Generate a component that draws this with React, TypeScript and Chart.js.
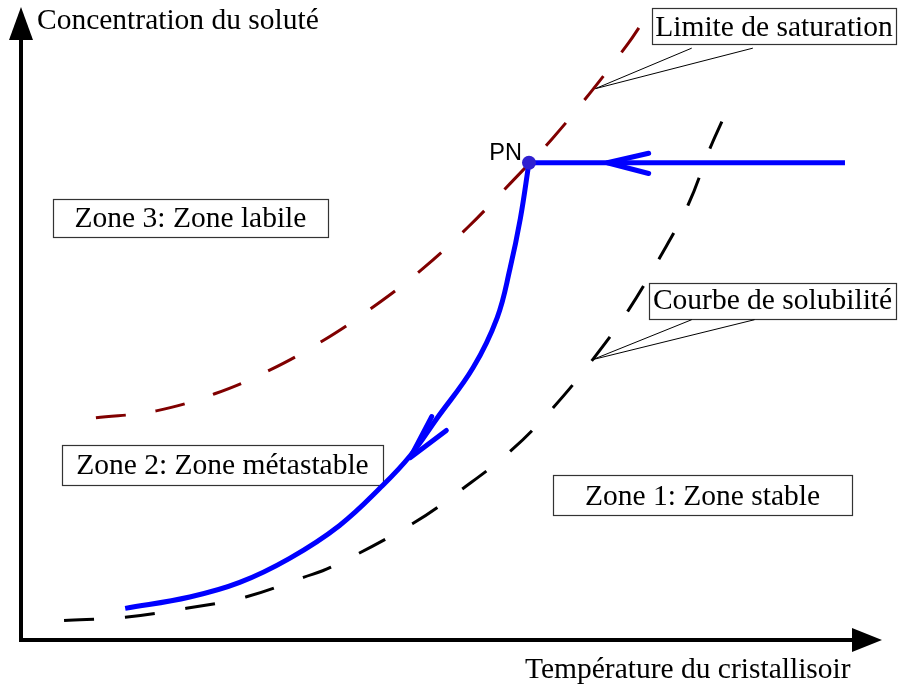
import { useEffect, useRef } from "react";
import { Chart, registerables } from "chart.js";

Chart.register(...registerables);

// ---- Data (temperature T in % of axis, concentration C in % of axis) ----
const saturationT = [8.7, 15.7, 22.5, 29.0, 35.2, 41.1, 46.7, 51.9, 56.8, 61.7, 66.2, 70.5, 72.2];
const saturationC = [35.1, 36.2, 38.9, 42.7, 47.4, 52.8, 58.7, 65.2, 72.1, 79.2, 86.6, 94.2, 97.6];

const solubiliteT = [5.0, 12.1, 19.2, 26.1, 32.8, 36.0, 45.5, 51.3, 56.9, 61.8, 66.4, 70.5, 74.1, 77.5, 80.0, 81.4];
const solubiliteC = [3.1, 3.6, 5.0, 6.8, 9.9, 11.5, 18.4, 23.9, 29.9, 36.7, 44.3, 52.0, 60.2, 68.8, 77.6, 81.9];

const coolingT = [12.1, 19.6, 25.4, 31.2, 37.0, 42.0, 45.2, 48.3, 52.5, 55.3, 56.8, 58.0, 59.0];
const coolingC = [5.0, 6.8, 9.1, 12.9, 18.1, 24.4, 29.1, 35.0, 43.0, 50.9, 58.7, 66.6, 75.4];

const plateauT = [95.7, 59.0];
const plateauC = [75.4, 75.4];

const arrowPlateauT = [72.9, 68.1, 72.9];
const arrowPlateauC = [76.9, 75.4, 73.7];

const arrowCurveT = [47.7, 45.2, 49.4];
const arrowCurveC = [35.3, 28.8, 33.1];

const calloutSatT = [77.9, 66.7, 85.0];
const calloutSatC = [93.5, 87.1, 93.5];

const calloutSolT = [77.9, 66.4, 85.2];
const calloutSolC = [50.6, 44.3, 50.6];

const pnT = [59.0];
const pnC = [75.4];

const axisTitleY = "Concentration du soluté";
const axisTitleX = "Température du cristallisoir";
const pointLabel = "PN";
const boxLabels = [
  "Zone 3: Zone labile",
  "Zone 2: Zone métastable",
  "Zone 1: Zone stable",
  "Limite de saturation",
  "Courbe de solubilité",
];

const pts = (xs: number[], ys: number[]) => xs.map((x, i) => ({ x, y: ys[i] }));

const SERIF = '29.5px "Liberation Serif", "Times New Roman", serif';

const boxLayout = [
  { x1: 53, y1: 199, x2: 328, y2: 237, base: 227 },
  { x1: 62, y1: 445, x2: 383, y2: 485, base: 474 },
  { x1: 553, y1: 475, x2: 852, y2: 515, base: 505 },
  { x1: 652, y1: 8, x2: 896, y2: 44, base: 36 },
  { x1: 649, y1: 283, x2: 896, y2: 319, base: 309 },
];

const boxesPlugin = {
  id: "boxes",
  beforeDatasetsDraw(chart: any) {
    const ctx = chart.ctx;
    ctx.save();
    boxLayout.forEach((b, i) => {
      ctx.fillStyle = "#ffffff";
      ctx.fillRect(b.x1, b.y1, b.x2 - b.x1, b.y2 - b.y1);
      ctx.strokeStyle = "#333333";
      ctx.lineWidth = 1.2;
      ctx.strokeRect(b.x1 + 0.5, b.y1 + 0.5, b.x2 - b.x1, b.y2 - b.y1);
      ctx.fillStyle = "#000000";
      ctx.font = SERIF;
      ctx.textAlign = "center";
      ctx.textBaseline = "alphabetic";
      ctx.fillText(boxLabels[i], (b.x1 + b.x2) / 2, b.base);
    });
    ctx.restore();
  },
};

const axesPlugin = {
  id: "axesArrows",
  afterDatasetsDraw(chart: any) {
    const ctx = chart.ctx;
    const { left, right, top, bottom } = chart.chartArea;
    ctx.save();
    ctx.strokeStyle = "#000";
    ctx.fillStyle = "#000";
    ctx.lineWidth = 4;
    ctx.lineCap = "butt";
    // y axis
    ctx.beginPath();
    ctx.moveTo(left, bottom + 2);
    ctx.lineTo(left, top + 30);
    ctx.stroke();
    ctx.beginPath();
    ctx.moveTo(left, top);
    ctx.lineTo(left - 12, top + 33);
    ctx.lineTo(left + 12, top + 33);
    ctx.closePath();
    ctx.fill();
    // x axis
    ctx.beginPath();
    ctx.moveTo(left - 2, bottom);
    ctx.lineTo(right - 28, bottom);
    ctx.stroke();
    ctx.beginPath();
    ctx.moveTo(right, bottom);
    ctx.lineTo(right - 30, bottom - 12);
    ctx.lineTo(right - 30, bottom + 12);
    ctx.closePath();
    ctx.fill();

    // axis titles
    ctx.font = SERIF;
    ctx.textAlign = "left";
    ctx.textBaseline = "alphabetic";
    ctx.fillText(axisTitleY, left + 16, 29);
    ctx.fillText(axisTitleX, 525, 678);

    // PN label
    const xs = chart.scales.x;
    const ys = chart.scales.y;
    ctx.font = '23.5px "Liberation Sans", Arial, sans-serif';
    ctx.textAlign = "right";
    ctx.fillText(pointLabel, xs.getPixelForValue(pnT[0]) - 7, ys.getPixelForValue(pnC[0]) - 3);
    ctx.restore();
  },
};

export default function App() {
  const ref = useRef<HTMLCanvasElement | null>(null);

  useEffect(() => {
    document.body.style.margin = "0";
    if (!ref.current) return;
    const line = (data: any, color: string, width: number, extra: any = {}) => ({
      type: "line",
      data,
      showLine: true,
      borderColor: color,
      backgroundColor: color,
      borderWidth: width,
      pointRadius: 0,
      fill: false,
      clip: false,
      ...extra,
    });
    const chart = new Chart(ref.current, {
      type: "scatter",
      data: {
        datasets: [
          line(pts(pnT, pnC), "#3020d0", 0, { pointRadius: 7, pointBackgroundColor: "#3020d0", pointBorderWidth: 0, showLine: false, order: 0 }),
          line(pts(arrowPlateauT, arrowPlateauC), "#0000ff", 5, { tension: 0, borderCapStyle: "round", borderJoinStyle: "round", order: 1 }),
          line(pts(arrowCurveT, arrowCurveC), "#0000ff", 5, { tension: 0, borderCapStyle: "round", borderJoinStyle: "round", order: 1 }),
          line(pts(plateauT, plateauC), "#0000ff", 5, { tension: 0, order: 2 }),
          line(pts(coolingT, coolingC), "#0000ff", 5, { tension: 0.4, order: 2 }),
          line(pts(saturationT, saturationC), "#800000", 3, { tension: 0.4, borderDash: [30, 30], order: 3 }),
          line(pts(solubiliteT, solubiliteC), "#000000", 3, { tension: 0.4, borderDash: [30, 31], order: 3 }),
          line(pts(calloutSatT, calloutSatC), "#000000", 1, { tension: 0, order: 4 }),
          line(pts(calloutSolT, calloutSolC), "#000000", 1, { tension: 0, order: 4 }),
        ],
      },
      options: {
        animation: false,
        responsive: false,
        maintainAspectRatio: false,
        layout: { padding: { left: 21, right: 16, top: 5, bottom: 48 } },
        scales: {
          x: { type: "linear", min: 0, max: 100, display: false },
          y: { type: "linear", min: 0, max: 100, display: false },
        },
        plugins: {
          legend: { display: false },
          tooltip: { enabled: false },
          title: { display: false },
        },
        events: [],
      },
      plugins: [boxesPlugin, axesPlugin],
    } as any);
    return () => chart.destroy();
  }, []);

  return (
    <div style={{ width: 898, height: 688, background: "#fff" }}>
      <canvas ref={ref} width={898} height={688} style={{ display: "block", width: 898, height: 688 }} />
    </div>
  );
}
